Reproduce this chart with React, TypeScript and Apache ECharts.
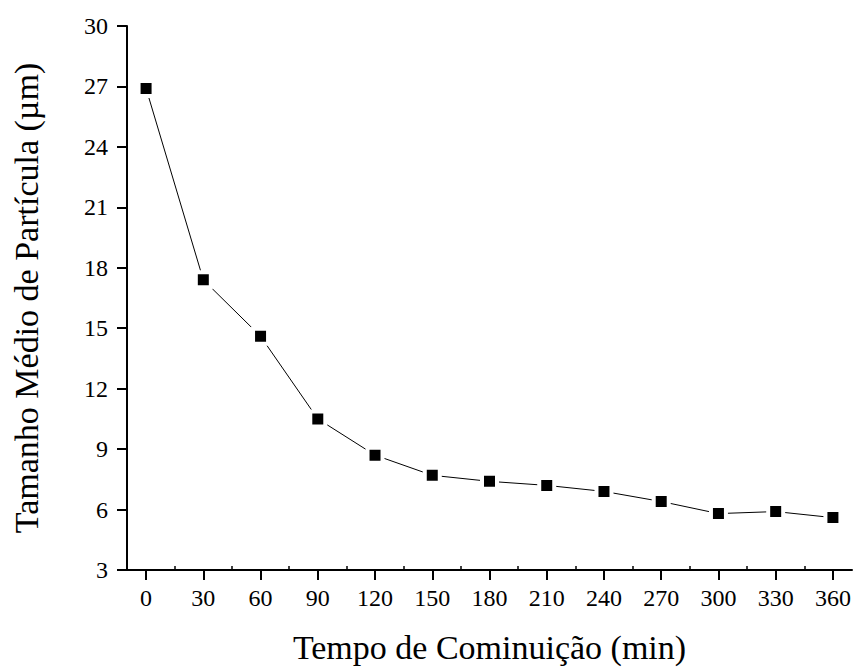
import React, { useEffect, useRef } from "react";
import * as echarts from "echarts";

// Milling time (min) and mean particle size (µm)
const tempos = [0, 30, 60, 90, 120, 150, 180, 210, 240, 270, 300, 330, 360];
const tamanhos = [26.9, 17.4, 14.6, 10.5, 8.7, 7.7, 7.4, 7.2, 6.9, 6.4, 5.8, 5.9, 5.6];
const xTicks = [0, 30, 60, 90, 120, 150, 180, 210, 240, 270, 300, 330, 360];
const xMinorTicks = [15, 45, 75, 105, 135, 165, 195, 225, 255, 285, 315, 345];

const FONT = "'Liberation Serif', 'Times New Roman', serif";

export default function App() {
  const ref = useRef<HTMLDivElement>(null);

  useEffect(() => {
    if (!ref.current) return;
    const chart = echarts.init(ref.current, undefined, { renderer: "svg" });
    chart.setOption({
      animation: false,
      backgroundColor: "#ffffff",
      grid: { left: 127, top: 26, right: 3, bottom: 96, containLabel: false },
      xAxis: [
        {
          type: "value",
          min: -10,
          max: 370,
          name: "Tempo de Cominuição (min)",
          nameLocation: "middle",
          nameGap: 60,
          nameTextStyle: { fontFamily: FONT, fontSize: 34, color: "#000" },
          axisLine: { show: true, onZero: false, lineStyle: { color: "#000", width: 2 } },
          axisTick: {
            show: true,
            inside: false,
            length: 10,
            customValues: xTicks,
            lineStyle: { color: "#000", width: 2 },
          },
          axisLabel: {
            customValues: xTicks,
            margin: 16,
            fontFamily: FONT,
            fontSize: 24,
            color: "#000",
          },
          splitLine: { show: false },
        },
        {
          type: "value",
          position: "bottom",
          min: -10,
          max: 370,
          axisLine: { show: false, onZero: false },
          axisTick: {
            show: true,
            inside: true,
            length: 4,
            customValues: xMinorTicks,
            lineStyle: { color: "#000", width: 1.5 },
          },
          axisLabel: { show: false },
          splitLine: { show: false },
        },
      ],
      yAxis: {
        type: "value",
        min: 3,
        max: 30,
        interval: 3,
        name: "Tamanho Médio de Partícula (µm)",
        nameLocation: "middle",
        nameGap: 84,
        nameTextStyle: { fontFamily: FONT, fontSize: 34, color: "#000" },
        axisLine: { show: true, onZero: false, lineStyle: { color: "#000", width: 2 } },
        axisTick: { show: true, inside: false, length: 10, lineStyle: { color: "#000", width: 2 } },
        axisLabel: { margin: 19, fontFamily: FONT, fontSize: 24, color: "#000" },
        splitLine: { show: false },
      },
      series: [
        {
          type: "line",
          xAxisIndex: 0,
          data: tempos.map((t, i) => [t, tamanhos[i]]),
          symbol: "rect",
          symbolSize: 15,
          itemStyle: { color: "#000", borderColor: "#fff", borderWidth: 4 },
          lineStyle: { color: "#000", width: 1 },
        },
      ],
    });
    return () => chart.dispose();
  }, []);

  return <div ref={ref} style={{ width: 855, height: 669, position: "absolute", left: 0, top: 0 }} />;
}
